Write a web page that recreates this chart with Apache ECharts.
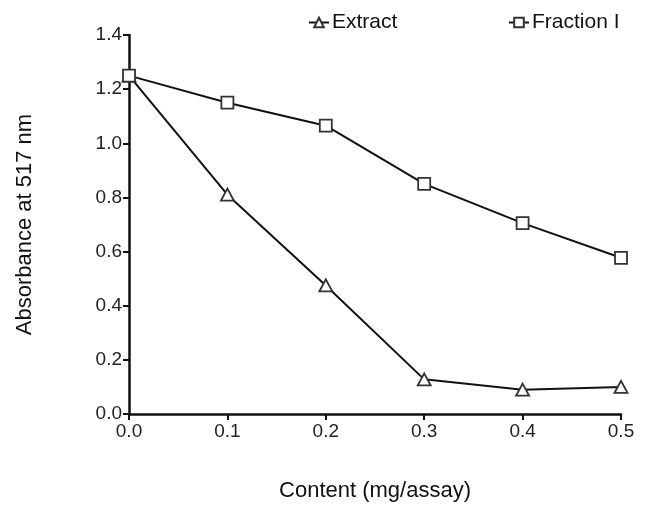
<!DOCTYPE html>
<html>
<head>
<meta charset="utf-8">
<script src="https://cdn.jsdelivr.net/npm/echarts@6/dist/echarts.min.js"></script>
<style>
html, body { margin: 0; padding: 0; background: #fff; }
#chart { width: 645px; height: 507px; }
</style>
</head>
<body>
<div id="chart"></div>
<script>
// 数据
var contentLevels = [0.0, 0.1, 0.2, 0.3, 0.4, 0.5];
var extractValues = [1.25, 0.81, 0.475, 0.128, 0.09, 0.1];
var fractionValues = [1.25, 1.15, 1.065, 0.85, 0.705, 0.577];

function pairUp(xs, ys) {
    var out = [];
    for (var i = 0; i < xs.length; i++) {
        out.push([xs[i], ys[i]]);
    }
    return out;
}

var chart = echarts.init(document.getElementById("chart"));
var fontFamily = "'Liberation Sans', Arial, sans-serif";
var legendText = { fontSize: 21, color: '#111', fontFamily: fontFamily, padding: [0, 0, 0, -2] };
var option = {
    backgroundColor: '#ffffff',
    animation: false,
    textStyle: { fontFamily: fontFamily },
    legend: [{
        data: ['Extract'],
        left: 303,
        top: 7,
        itemWidth: 20,
        itemHeight: 12,
        textStyle: legendText
    }, {
        data: ['Fraction I'],
        left: 503,
        top: 7,
        itemWidth: 20,
        itemHeight: 12,
        textStyle: legendText
    }],
    grid: {
        left: 129,
        right: 24,
        top: 35,
        bottom: 89
    },
    xAxis: {
        type: 'value',
        min: 0,
        max: 0.5,
        interval: 0.1,
        name: 'Content (mg/assay)',
        nameLocation: 'middle',
        nameGap: 66,
        nameTextStyle: { fontSize: 22, color: '#111' },
        axisLine: { lineStyle: { color: '#111', width: 2.5 } },
        axisTick: { show: true, length: 6, lineStyle: { color: '#111', width: 2 } },
        axisLabel: {
            fontSize: 19, color: '#222', margin: 8,
            formatter: function (v) { return v.toFixed(1); }
        },
        splitLine: { show: false }
    },
    yAxis: {
        type: 'value',
        min: 0,
        max: 1.4,
        interval: 0.2,
        name: 'Absorbance at 517 nm',
        nameLocation: 'middle',
        nameGap: 93,
        nameTextStyle: { fontSize: 22, color: '#111' },
        axisLine: { show: true, lineStyle: { color: '#111', width: 2.5 } },
        axisTick: { show: true, length: 6, lineStyle: { color: '#111', width: 2 } },
        axisLabel: {
            fontSize: 19, color: '#222', margin: 7,
            formatter: function (v) { return v.toFixed(1); }
        },
        splitLine: { show: false }
    },
    series: [{
        name: 'Extract',
        type: 'line',
        data: pairUp(contentLevels, extractValues),
        symbol: 'triangle',
        symbolSize: [13, 12],
        showAllSymbol: true,
        lineStyle: { color: '#111', width: 2 },
        itemStyle: { color: '#fff', borderColor: '#333', borderWidth: 1.8 },
        z: 3
    }, {
        name: 'Fraction I',
        type: 'line',
        data: pairUp(contentLevels, fractionValues),
        symbol: 'rect',
        symbolSize: 12,
        showAllSymbol: true,
        lineStyle: { color: '#111', width: 2 },
        itemStyle: { color: '#fff', borderColor: '#333', borderWidth: 1.8 },
        z: 4
    }]
};
chart.setOption(option);
</script>
</body>
</html>
